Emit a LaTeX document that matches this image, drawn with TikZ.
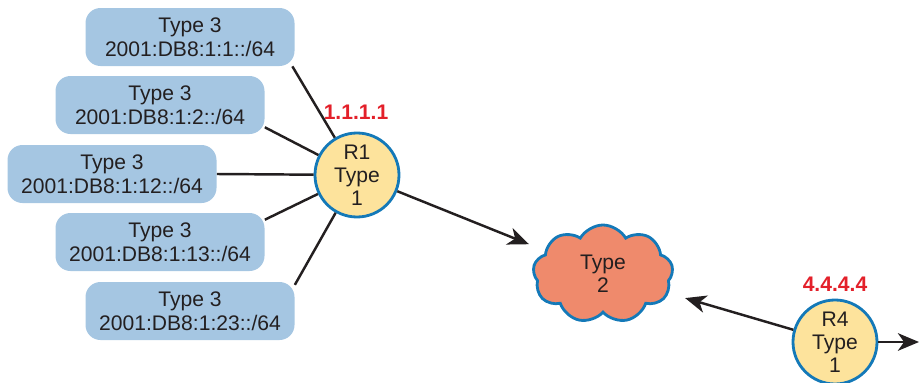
\documentclass[tikz,border=0pt]{standalone}
\usepackage{fontspec}
\setmainfont{Liberation Sans}
\usetikzlibrary{arrows.meta,shapes.symbols}

\definecolor{lsablue}{HTML}{A5C6E2}
\definecolor{rtrfill}{HTML}{FDE39C}
\definecolor{rtredge}{HTML}{1479B8}
\definecolor{cloudfill}{HTML}{EF8A6C}
\definecolor{ridred}{HTML}{E3202A}
\definecolor{inkgray}{HTML}{231F20}

\tikzset{
  lsa/.style={rectangle, rounded corners=0.3cm, fill=lsablue, minimum width=4.18cm,
    minimum height=1.16cm, inner sep=0pt, align=center, text=inkgray,
    font=\fontsize{12}{13.5}\selectfont},
  router/.style={circle, draw=rtredge, line width=1.6pt, fill=rtrfill, minimum size=1.68cm,
    inner sep=0pt, align=center, text=inkgray, font=\fontsize{12}{13}\selectfont},
  transit/.style={cloud, cloud puffs=9, cloud puff arc=120, draw=rtredge, line width=1.6pt,
    fill=cloudfill, minimum width=2.8cm, minimum height=1.96cm, inner sep=0pt,
    align=center, text=inkgray, font=\fontsize{12}{13}\selectfont},
  rid/.style={text=ridred, font=\bfseries\fontsize{12}{13}\selectfont},
  link/.style={line width=1.4pt, draw=inkgray},
  flow/.style={link, -{Stealth[length=12pt,width=10pt,inset=3.5pt]}},
}

\begin{document}
\begin{tikzpicture}
\useasboundingbox (0,0) rectangle (18.38,7.64);

% Type 3 prefixes
\node[lsa] (p1)  at (3.80,6.90) {Type 3\\2001:DB8:1:1::/64};
\node[lsa] (p2)  at (3.20,5.54) {Type 3\\2001:DB8:1:2::/64};
\node[lsa] (p12) at (2.24,4.16) {Type 3\\2001:DB8:1:12::/64};
\node[lsa] (p13) at (3.20,2.80) {Type 3\\2001:DB8:1:13::/64};
\node[lsa] (p23) at (3.80,1.42) {Type 3\\2001:DB8:1:23::/64};

% ABR R1
\node[router] (r1) at (7.14,4.14) {R1\\Type\\1};
\node[rid] (r1id) at (7.12,5.40) {1.1.1.1};

% transit network
\node[transit] (t2) at (12.06,2.16) {Type\\2};

% R4
\node[router] (r4) at (16.70,0.80) {R4\\Type\\1};
\node[rid] (r4id) at (16.70,1.96) {4.4.4.4};
\coordinate (out) at (18.38,0.80);

\draw[link] (p1.-16) -- (r1);
\draw[link] (p2.-12) -- (r1);
\draw[link] (p12.east) -- (r1);
\draw[link] (p13.12) -- (r1);
\draw[link] (p23.14) -- (r1);

\draw[flow, shorten >=0.34cm] (r1) -- (t2);
\draw[flow, shorten >=0.34cm] (r4) -- (t2);
\draw[flow] (r4) -- (out);

\end{tikzpicture}
\end{document}
